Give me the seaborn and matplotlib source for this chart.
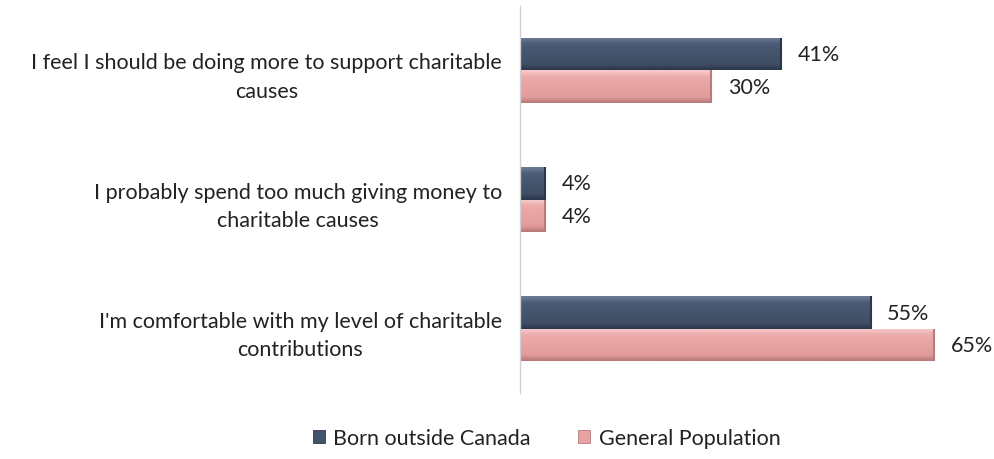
import numpy as np
import pandas as pd
import matplotlib
matplotlib.use("Agg")
import matplotlib.pyplot as plt
from matplotlib.colors import LinearSegmentedColormap
import seaborn as sns

statements = [
    "I feel I should be doing more to support charitable\ncauses",
    "I probably spend too much giving money to\ncharitable causes",
    "I'm comfortable with my level of charitable\ncontributions",
]
groups = ["Born outside Canada", "General Population"]
born_outside = [41, 4, 55]
general_pop = [30, 4, 65]

df = pd.DataFrame({
    "statement": statements * 2,
    "group": [groups[0]] * 3 + [groups[1]] * 3,
    "pct": born_outside + general_pop,
})

sns.set_theme(style="white")
plt.rcParams["font.family"] = ["Lato", "DejaVu Sans"]

navy = "#44526B"
pink = "#E8A2A2"
shades = {
    navy: ["#6B7A94", "#4A5873", "#404E66", "#2C374A"],
    pink: ["#F6CACA", "#EBA8A8", "#E39C9C", "#B87A7A"],
}
FS = 15.5

fig = plt.figure(figsize=(9.94, 4.6), dpi=100)
ax = fig.add_axes([0.523, 0.143, 0.449, 0.842])

sns.barplot(data=df, y="statement", x="pct", hue="group", orient="h",
            palette=[navy, pink], width=0.5, ax=ax, legend=False,
            saturation=1, edgecolor="none")

ax.set_xlim(0, 70)
ax.set_ylim(2.5, -0.5)

# give each bar a soft vertical bevel gradient
for container, col in zip(ax.containers, [navy, pink]):
    cmap = LinearSegmentedColormap.from_list("bev", shades[col])
    grad = np.concatenate([np.linspace(0, 0.15, 4), np.linspace(0.25, 0.7, 20),
                           np.linspace(0.8, 1, 4)]).reshape(-1, 1)
    for bar in container:
        x0, y0 = bar.get_x(), bar.get_y()
        w, h = bar.get_width(), bar.get_height()
        im = ax.imshow(grad, cmap=cmap, aspect="auto", vmin=0, vmax=1,
                       extent=[x0, x0 + w, y0 + h, y0], zorder=bar.get_zorder() + 0.1,
                       interpolation="bilinear")
        im.set_clip_path(bar)
        ax.plot([x0 + w, x0 + w], [y0, y0 + h], color=shades[col][3], lw=1.5,
                zorder=bar.get_zorder() + 0.2, solid_capstyle="butt")
    ax.bar_label(container, labels=[f"{int(v)}%" for v in container.datavalues],
                 padding=12, fontsize=FS, color="#222222")

ax.set_ylim(2.5, -0.5)
ax.set_xlim(0, 70)
ax.set_xlabel("")
ax.set_ylabel("")
ax.set_xticks([])
ax.tick_params(axis="y", length=0, pad=13, labelsize=FS, labelcolor="#222222")
for lbl in ax.get_yticklabels():
    lbl.set_multialignment("center")
    lbl.set_linespacing(1.55)

for side in ["top", "right", "bottom"]:
    ax.spines[side].set_visible(False)
ax.spines["left"].set_color("#D0D0D0")
ax.spines["left"].set_linewidth(1.0)

handles = [plt.Rectangle((0, 0), 1, 1, facecolor=c, edgecolor=shades[c][3], lw=0.6)
           for c in [navy, pink]]
fig.legend(handles, groups, loc="center", bbox_to_anchor=(0.55, 0.045), ncol=2,
           frameon=False, fontsize=FS, handlelength=0.55, handleheight=0.55,
           handletextpad=0.4, columnspacing=2.2, labelcolor="#222222")

fig.savefig("out.png", dpi=100, facecolor="white")
